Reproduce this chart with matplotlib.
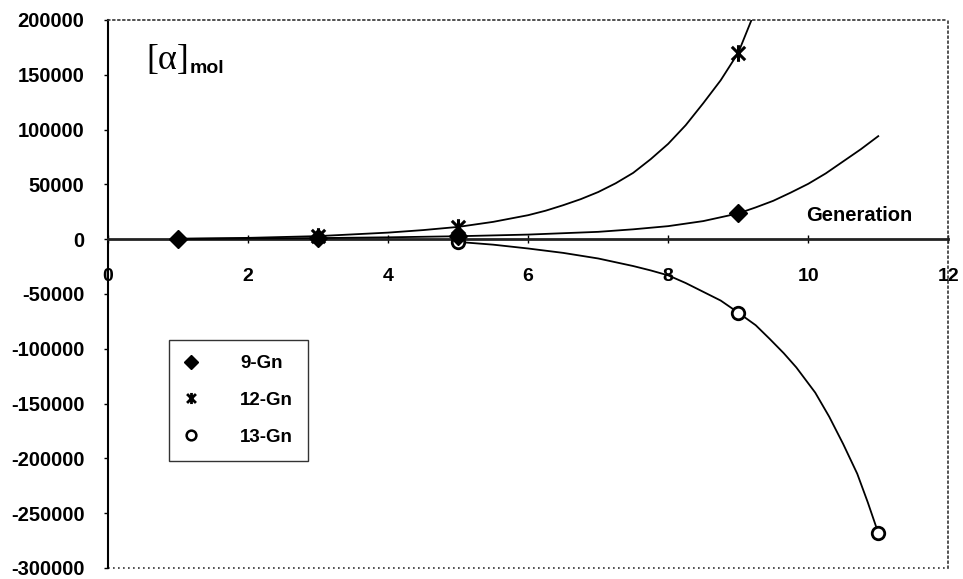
import matplotlib
matplotlib.use("Agg")
import matplotlib.pyplot as plt
from matplotlib.lines import Line2D
from matplotlib.path import Path

plt.rcParams['font.family'] = ['Liberation Sans', 'DejaVu Sans']

# measured points
gen_9 = [1, 3, 5, 9]
val_9 = [300, 1000, 2700, 23500]
gen_12 = [3, 5, 9]
val_12 = [2800, 11200, 170000]
gen_13 = [5, 9, 11]
val_13 = [-2500, -67000, -268000]

# trend curves
curve_x_9 = [1, 2, 3, 4, 5, 6, 7, 7.5, 8, 8.5, 9, 9.25, 9.5, 9.75, 10, 10.25, 10.5, 10.75, 11]
curve_y_9 = [300, 600, 1000, 1700, 2700, 4200, 6700, 9000, 11900, 16500, 23500, 29000, 35000,
             42500, 50500, 60000, 71000, 82000, 94000]
curve_x_12 = [1, 2, 3, 4, 4.5, 5, 5.5, 6, 6.25, 6.5, 6.75, 7, 7.25, 7.5, 7.75, 8, 8.25, 8.5,
              8.75, 9, 9.19]
curve_y_12 = [400, 1200, 2800, 6000, 8300, 11200, 15800, 21900, 26000, 31000, 36500, 43000,
              51000, 60500, 73000, 87000, 104000, 124000, 145000, 170000, 200000]
curve_x_13 = [5, 5.5, 6, 6.5, 7, 7.5, 7.75, 8, 8.25, 8.5, 8.75, 9, 9.25, 9.45, 9.65, 9.83,
              10.1, 10.3, 10.5, 10.7, 10.85, 11]
curve_y_13 = [-2500, -5000, -8500, -12500, -17600, -24500, -28500, -33000, -40000, -48000,
              -56000, -67000, -78500, -91000, -104000, -117000, -140000, -162000, -187000,
              -214000, -240000, -268000]

labels = ['9-Gn', '12-Gn', '13-Gn']
x_ticks = [0, 2, 4, 6, 8, 10, 12]
y_ticks = [-300000, -250000, -200000, -150000, -100000, -50000, 0, 50000, 100000, 150000, 200000]

# asterisk marker (x plus vertical bar)
star = Path([(-1, -1), (1, 1), (-1, 1), (1, -1), (0, -1.25), (0, 1.25)],
            [Path.MOVETO, Path.LINETO, Path.MOVETO, Path.LINETO, Path.MOVETO, Path.LINETO])

fig = plt.figure(figsize=(9.63, 5.79), dpi=100)
ax = fig.add_axes([0.1122, 0.019, 0.8725, 0.9465])
ax.set_xlim(0, 12)
ax.set_ylim(-300000, 200000)

lw = 1.3
for cx, cy in [(curve_x_9, curve_y_9), (curve_x_12, curve_y_12), (curve_x_13, curve_y_13)]:
    ax.plot(cx, cy, color='black', lw=lw, zorder=3, solid_joinstyle='round')

ax.plot(gen_13, val_13, ls='none', marker='o', ms=9, mfc='white', mec='black', mew=2, zorder=4)
ax.plot(gen_9, val_9, ls='none', marker='D', ms=9, mfc='black', mec='black', zorder=5)
ax.plot(gen_12, val_12, ls='none', marker=star, ms=12, mfc='none', mec='black', mew=2.2, zorder=6)

# spines
for s in ['top', 'right']:
    ax.spines[s].set_linestyle((0, (1, 2)))
    ax.spines[s].set_linewidth(1.2)
    ax.spines[s].set_color('#333333')
ax.spines['left'].set_linewidth(1.5)
ax.spines['left'].set_color('black')
ax.spines['bottom'].set_position(('data', 0))
ax.spines['bottom'].set_linewidth(2)
ax.spines['bottom'].set_color('#222222')
ax.plot([0, 1], [0, 0], transform=ax.transAxes, color='#333333', lw=1.2,
        ls=(0, (1, 2)), clip_on=False, zorder=1)

ax.set_xticks(x_ticks)
ax.set_xticklabels([str(v) for v in x_ticks])
ax.set_yticks(y_ticks)
ax.set_yticklabels([str(v) for v in y_ticks])
ax.tick_params(axis='x', direction='inout', length=6, width=1, pad=18, labelsize=14)
ax.tick_params(axis='y', direction='out', length=3, width=1, pad=14, labelsize=14.5)
for t in ax.get_xticklabels() + ax.get_yticklabels():
    t.set_fontweight('bold')

# annotations
ax.text(0.55, 155000, '[α]', fontsize=26, family=['Liberation Serif', 'DejaVu Serif'],
        ha='left', va='baseline')
ax.text(1.17, 152000, 'mol', fontsize=14, fontweight='bold', ha='left', va='baseline')
ax.text(10.73, 21900, 'Generation', fontsize=14.5, fontweight='bold', ha='center', va='center')

handles = [
    Line2D([], [], ls='none', marker='D', ms=7, mfc='black', mec='black'),
    Line2D([], [], ls='none', marker=star, ms=8, mfc='none', mec='black', mew=2),
    Line2D([], [], ls='none', marker='o', ms=7, mfc='white', mec='black', mew=1.8),
]
leg = ax.legend(handles, labels, loc='upper left', bbox_to_anchor=(0.0723, 0.416),
                borderaxespad=0, frameon=True, fancybox=False, edgecolor='black',
                prop={'weight': 'bold', 'size': 13.5}, borderpad=0.8, labelspacing=1.05,
                handlelength=0.8, handletextpad=2.2)
leg.get_frame().set_linewidth(1.0)
for t in leg.get_texts():
    t.set_ha('right')

fig.savefig('out.png', dpi=100)
